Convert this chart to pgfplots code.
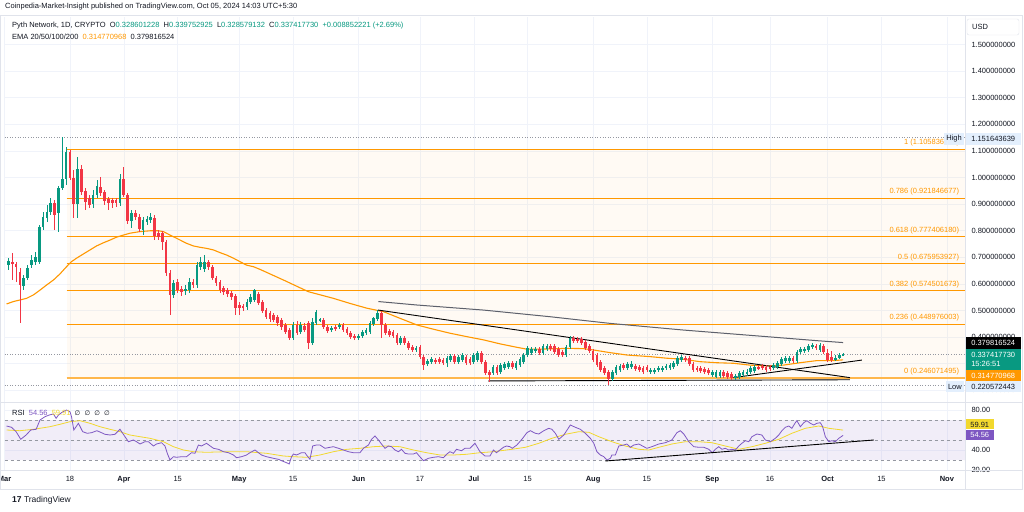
\documentclass[border=0pt]{standalone}
\usepackage{pgfplots}
\usepackage{pgfplotstable}
\pgfplotsset{compat=1.18}
\usepackage{fontspec}
\setmainfont{Liberation Sans}
\newfontfamily\djv{DejaVu Sans}
\newcommand\f{\fontsize{7.5pt}{9pt}\selectfont}
\definecolor{upc}{HTML}{089981}
\definecolor{dnc}{HTML}{F23645}
\definecolor{fibc}{HTML}{FF9800}
\definecolor{emac}{HTML}{FF9800}
\definecolor{emab}{HTML}{5D606B}
\definecolor{txt}{HTML}{131722}
\definecolor{gridc}{HTML}{F0F3FA}
\definecolor{rsic}{HTML}{7E57C2}
\definecolor{rsima}{HTML}{F2D82E}
\definecolor{hl}{HTML}{E3EFFD}
\definecolor{framec}{HTML}{E0E3EB}
\definecolor{dashc}{HTML}{9598A1}

\pgfplotstableread{
d o h l c
1 .671 .698 .653 .686
5 .592 .634 .577 .622
6 .622 .671 .615 .660
7 .671 .709 .660 .690
8 .683 .720 .671 .701
9 .683 .822 .675 .814
10 .814 .871 .803 .852
11 .848 .897 .833 .871
12 .871 .923 .859 .904
14 .867 .969 .796 .961
15 .961 1.152 .953 .995
16 .995 1.115 .972 1.096
19 .901 1.078 .848 1.032
23 .901 .953 .886 .935
24 .935 .991 .923 .969
30 .904 1.014 .893 .995
33 .837 .878 .810 .867
36 .803 .852 .784 .841
37 .833 .856 .822 .844
38 .841 .867 .829 .852
44 .559 .615 .547 .604
47 .573 .596 .559 .581
48 .577 .622 .566 .608
50 .596 .683 .585 .671
51 .664 .701 .653 .683
52 .656 .709 .645 .683
63 .514 .543 .502 .532
64 .532 .562 .525 .551
65 .540 .581 .532 .577
75 .397 .457 .389 .446
77 .420 .457 .412 .446
80 .378 .472 .371 .457
81 .453 .502 .446 .495
82 .465 .472 .457 .468
85 .427 .442 .420 .435
87 .438 .453 .431 .446
92 .397 .412 .389 .404
93 .404 .427 .397 .420
94 .416 .435 .408 .427
95 .420 .461 .412 .453
96 .450 .476 .442 .472
97 .468 .502 .461 .491
103 .378 .404 .371 .397
107 .352 .367 .344 .359
110 .299 .318 .292 .310
111 .307 .326 .299 .318
115 .303 .329 .288 .322
116 .314 .337 .307 .329
118 .307 .333 .299 .326
119 .314 .341 .307 .333
122 .307 .341 .299 .333
123 .314 .348 .307 .341
127 .265 .295 .258 .288
129 .269 .303 .262 .295
130 .284 .307 .277 .299
131 .288 .310 .281 .303
133 .284 .310 .277 .303
134 .295 .326 .288 .318
135 .307 .341 .299 .333
136 .333 .367 .326 .359
137 .341 .363 .333 .356
138 .348 .363 .341 .356
140 .341 .374 .333 .367
141 .356 .374 .348 .367
146 .333 .371 .326 .363
147 .363 .404 .356 .397
158 .243 .277 .235 .269
159 .265 .295 .258 .288
160 .277 .299 .269 .292
162 .284 .307 .277 .299
163 .288 .310 .281 .299
168 .269 .284 .262 .277
169 .269 .284 .262 .277
170 .277 .292 .269 .284
171 .277 .292 .269 .284
172 .284 .299 .277 .292
173 .284 .303 .277 .295
174 .288 .310 .281 .303
175 .299 .329 .292 .322
176 .314 .333 .307 .326
184 .258 .277 .250 .269
185 .250 .277 .247 .269
186 .254 .277 .247 .269
190 .247 .262 .239 .254
191 .250 .273 .243 .265
192 .258 .277 .250 .269
193 .262 .281 .254 .269
194 .269 .292 .262 .284
195 .273 .295 .265 .288
200 .284 .303 .277 .295
201 .288 .310 .281 .303
202 .299 .326 .292 .318
203 .310 .329 .303 .322
204 .310 .329 .303 .322
206 .310 .352 .303 .344
207 .344 .363 .337 .356
208 .348 .363 .341 .356
209 .352 .374 .344 .367
210 .363 .378 .356 .371
212 .352 .378 .344 .371
216 .314 .333 .310 .322
217 .322 .341 .318 .333
218 .3286 .3398 .3286 .3374
}\upT

\pgfplotstableread{
d o h l c
2 .683 .717 .615 .675
3 .675 .683 .608 .664
4 .645 .660 .453 .596
13 .904 .916 .803 .859
17 1.096 1.104 .991 .998
18 .998 1.029 .848 .901
20 1.032 1.047 .935 .946
21 .950 .961 .878 .908
22 .923 .935 .886 .897
25 .965 1.002 .931 .942
26 .946 .953 .897 .912
27 .919 .927 .878 .904
28 .916 .923 .886 .904
29 .916 .923 .889 .904
31 .995 1.040 .927 .935
32 .935 .942 .826 .837
34 .867 .878 .841 .852
35 .852 .863 .796 .807
39 .848 .859 .765 .780
40 .792 .803 .765 .777
41 .792 .799 .728 .758
42 .758 .765 .630 .641
43 .641 .653 .483 .559
45 .608 .619 .566 .577
46 .581 .592 .555 .570
49 .608 .619 .585 .596
53 .683 .690 .653 .664
54 .664 .671 .615 .622
55 .622 .630 .592 .604
56 .608 .615 .566 .577
57 .585 .592 .559 .570
58 .577 .585 .551 .562
59 .566 .573 .540 .551
60 .555 .562 .483 .510
61 .521 .532 .483 .510
62 .517 .525 .498 .510
66 .562 .570 .521 .529
67 .532 .540 .491 .498
68 .502 .510 .468 .476
69 .491 .498 .457 .468
70 .484 .491 .457 .465
71 .476 .483 .442 .453
72 .465 .472 .427 .438
73 .446 .453 .412 .420
74 .427 .435 .389 .397
76 .446 .461 .408 .416
78 .442 .453 .420 .427
79 .453 .461 .356 .378
83 .465 .472 .431 .438
84 .438 .446 .416 .423
86 .438 .446 .423 .431
88 .446 .453 .420 .427
89 .431 .438 .408 .416
90 .416 .423 .393 .401
91 .404 .412 .389 .397
98 .491 .498 .397 .446
99 .446 .453 .408 .416
100 .423 .431 .401 .408
101 .420 .427 .397 .404
102 .408 .416 .371 .378
104 .397 .404 .371 .378
105 .378 .386 .352 .359
106 .363 .371 .344 .352
108 .363 .371 .318 .326
109 .326 .333 .277 .295
112 .314 .322 .299 .307
113 .318 .326 .299 .307
114 .314 .322 .295 .303
117 .329 .337 .299 .307
120 .326 .333 .295 .303
121 .318 .326 .295 .303
124 .341 .348 .299 .307
125 .307 .314 .258 .265
126 .269 .277 .232 .258
128 .288 .295 .258 .265
132 .303 .310 .281 .288
139 .356 .363 .333 .341
142 .367 .374 .348 .356
143 .367 .374 .337 .344
144 .356 .363 .326 .333
145 .344 .352 .326 .333
148 .397 .404 .378 .386
149 .393 .401 .378 .386
150 .393 .401 .371 .378
151 .382 .389 .352 .359
152 .367 .374 .341 .348
153 .348 .356 .307 .314
154 .333 .341 .288 .295
155 .307 .314 .269 .277
156 .284 .292 .258 .265
157 .269 .277 .2206 .243
161 .295 .303 .277 .284
164 .292 .299 .273 .281
165 .288 .295 .269 .277
166 .284 .292 .262 .269
167 .288 .295 .269 .277
177 .322 .329 .307 .314
178 .322 .329 .292 .299
179 .299 .307 .269 .277
180 .284 .292 .269 .277
181 .284 .292 .265 .273
182 .281 .288 .262 .269
183 .277 .284 .258 .265
187 .269 .277 .247 .254
188 .265 .273 .243 .250
189 .262 .269 .239 .247
196 .288 .295 .277 .284
197 .292 .299 .277 .284
198 .288 .295 .269 .277
199 .288 .295 .273 .281
205 .322 .329 .303 .310
211 .367 .374 .352 .359
213 .367 .374 .337 .344
214 .341 .356 .307 .314
215 .326 .348 .307 .314
}\dnT

\pgfplotsset{
  chart/.style={scale only axis, width=960.4pt, xmin=0, xmax=249.714,
    axis line style={draw=none}, major tick length=0pt,
    grid=major, grid style={gridc, line width=0.6pt},
    xtick={0,17,31,45,61,75,92,108,122,136,153,167,184,199,214,228,245},
    yticklabel pos=right,
    yticklabel style={font=\f, text=txt, anchor=west, xshift=3pt}},
  wick/.style={draw=none, mark=none, forget plot,
    error bars/y dir=both, error bars/y explicit, error bars/error mark=none,
    error bars/error bar style={draw=#1, line width=0.75pt, solid}},
  body/.style={draw=none, mark=none, forget plot,
    error bars/y dir=both, error bars/y explicit, error bars/error mark=none,
    error bars/error bar style={draw=#1, line width=2.7pt, solid}},
}

\begin{document}
\begin{tikzpicture}[font=\f]
\useasboundingbox (0,0) rectangle (1024pt,511pt);
\fill[white] (0,0) rectangle (1024pt,511pt);
\begin{scope}
\clip (0,0) rectangle (1024pt,511pt);

% ---------- price panel ----------
\begin{axis}[chart, at={(4.6pt,109pt)}, anchor=south west, height=385pt,
  ymin=0.15639, ymax=1.60376, xticklabels={},
  ytick={0.2,0.4,0.5,0.6,0.7,0.8,0.9,1.0,1.1,1.2,1.3,1.4,1.5},
  yticklabels={0.200000000,0.400000000,0.500000000,0.600000000,0.700000000,0.800000000,0.900000000,1.000000000,1.100000000,1.200000000,1.300000000,1.400000000,1.500000000},
  extra y ticks={0.3}, extra y tick labels={}]
% fib background
\addplot[draw=none, fill=fibc, fill opacity=0.045, forget plot] coordinates {(16.15,0.246071) (249.714,0.246071) (249.714,1.105837) (16.15,1.105837)} -- cycle;
% fib levels
\addplot[fibc, line width=1pt, forget plot] coordinates {(16.15,1.105837) (249.714,1.105837)};
\addplot[fibc, line width=1pt, forget plot] coordinates {(16.15,0.921847) (249.714,0.921847)};
\addplot[fibc, line width=1pt, forget plot] coordinates {(16.15,0.777406) (249.714,0.777406)};
\addplot[fibc, line width=1pt, forget plot] coordinates {(16.15,0.675954) (249.714,0.675954)};
\addplot[fibc, line width=1pt, forget plot] coordinates {(16.15,0.574502) (249.714,0.574502)};
\addplot[fibc, line width=1pt, forget plot] coordinates {(16.15,0.448976) (249.714,0.448976)};
\addplot[fibc!70, line width=1.4pt, forget plot] coordinates {(16.15,0.246071) (249.714,0.246071)};
% dotted high / low / last
\addplot[dashc, dotted, line width=0.6pt, forget plot] coordinates {(0,1.151644) (249.714,1.151644)};
\addplot[dashc, dotted, line width=0.6pt, forget plot] coordinates {(0,0.220572) (249.714,0.220572)};
\addplot[dashc, dotted, line width=0.6pt, forget plot] coordinates {(0,0.337418) (249.714,0.337418)};
% EMA 200 (grey)
\addplot[emab, line width=1pt, forget plot] coordinates {(97.2,.534) (107.2,.521) (124.5,.502) (141.8,.477) (157.4,.452) (176.4,.427) (198.2,.402) (211.2,.387) (218,.3798)};
% EMA 50 (orange)
\addplot[emac, line width=1.1pt, forget plot] coordinates {(0.5,.525) (2.3,.534) (4,.540) (5.7,.546) (7.5,.559) (9.2,.577) (10.9,.596) (12.7,.615) (14.4,.638) (16.1,.665) (17.4,.684) (18.7,.697) (20.5,.713) (22.2,.728) (23.9,.743) (25.7,.755) (27.4,.765) (29.1,.776) (30.9,.784) (32.6,.791) (35.2,.797) (37.8,.800) (40,.800) (41.3,.797) (43,.784) (44.7,.772) (47.3,.753) (49.1,.743) (50.8,.738) (52.5,.734) (54.3,.728) (56,.718) (57.7,.709) (59.5,.697) (61.2,.684) (62.9,.671) (64.7,.665) (66.4,.655) (72.5,.615) (79,.571) (85.5,.546) (89.8,.527) (94.2,.509) (98.5,.496) (102.8,.471) (107.2,.446) (111.5,.430) (115.8,.415) (120.2,.402) (124.5,.390) (128.8,.375) (133.2,.362) (135.8,.355) (139.2,.355) (143.6,.357) (147,.358) (150.5,.357) (153.1,.352) (157.4,.342) (161.8,.333) (167.8,.327) (172.2,.321) (176.5,.317) (180.8,.308) (185.2,.304) (189.5,.302) (193.8,.295) (198.2,.292) (202.5,.295) (206.8,.304) (211.2,.312) (215.5,.312) (218,.3148)};
% trend lines
\addplot[black, line width=0.9pt, forget plot] coordinates {(97.1,.502) (219.8,.248)};
\addplot[black, line width=0.9pt, forget plot] coordinates {(125.7,.2355) (219.8,.240)};
\addplot[black, line width=0.9pt, forget plot] coordinates {(189.5,.248) (222.9,.314)};
% candles
\addplot[wick=upc] table[x=d, y expr={(\thisrow{h}+\thisrow{l})/2}, y error expr={(\thisrow{h}-\thisrow{l})/2}] {\upT};
\addplot[wick=dnc] table[x=d, y expr={(\thisrow{h}+\thisrow{l})/2}, y error expr={(\thisrow{h}-\thisrow{l})/2}] {\dnT};
\addplot[body=upc] table[x=d, y expr={(\thisrow{o}+\thisrow{c})/2}, y error expr={max(abs(\thisrow{o}-\thisrow{c})/2,0.0018)}] {\upT};
\addplot[body=dnc] table[x=d, y expr={(\thisrow{o}+\thisrow{c})/2}, y error expr={max(abs(\thisrow{o}-\thisrow{c})/2,0.0018)}] {\dnT};
% fib labels
\begin{scope}[every node/.style={anchor=south east, font=\f, text=fibc, inner sep=1pt, yshift=2pt}]
\node at (axis cs:248.5,1.105837) {1 (1.105836536)};
\node at (axis cs:248.5,0.921847) {0.786 (0.921846677)};
\node at (axis cs:248.5,0.777406) {0.618 (0.777406180)};
\node at (axis cs:248.5,0.675954) {0.5 (0.675953927)};
\node at (axis cs:248.5,0.574502) {0.382 (0.574501673)};
\node at (axis cs:248.5,0.448976) {0.236 (0.448976003)};
\node at (axis cs:248.5,0.246071) {0 (0.246071495)};
\end{scope}
\end{axis}

% ---------- RSI panel ----------
\begin{axis}[chart, at={(4.6pt,41pt)}, anchor=south west, height=67pt,
  ymin=20, ymax=87, ytick={20,40,80}, yticklabels={20.00,40.00,80.00},
  xticklabels={\textbf{Mar},18,\textbf{Apr},15,\textbf{May},15,\textbf{Jun},17,\textbf{Jul},15,\textbf{Aug},15,\textbf{Sep},16,\textbf{Oct},15,\textbf{Nov}},
  xticklabel style={font=\f, text=txt, yshift=-3pt}]
\addplot[draw=none, fill=rsic, fill opacity=0.1, forget plot] coordinates {(0,30) (249.714,30) (249.714,70) (0,70)} -- cycle;
\addplot[dashc, dashed, line width=0.6pt, forget plot] coordinates {(0,70) (249.714,70)};
\addplot[dashc, dashed, line width=0.6pt, forget plot] coordinates {(0,50) (249.714,50)};
\addplot[dashc, dashed, line width=0.6pt, forget plot] coordinates {(0,30) (249.714,30)};
% RSI MA
\addplot[rsima, line width=0.8pt, forget plot] coordinates {(0.5,60) (4,59.3) (7.5,60.7) (11.8,63.3) (14.4,65.7) (17,68.3) (19.6,69.3) (22.2,66.7) (24.8,63.3) (27.4,60.7) (30,58.3) (32.6,55) (35.2,53.3) (37.8,51.7) (41.3,48.3) (43.9,43.3) (46.5,40) (49.1,38.3) (52.5,37.7) (57.7,38.3) (62.9,38.3) (68.1,36.7) (72.5,34) (75.1,33.3) (78.5,32.7) (82,35) (85.5,38.3) (89,40.7) (92.4,41.7) (95.9,43.3) (99.3,44) (102.8,43.3) (106.3,40) (109.7,37.3) (113.2,35) (116.7,35) (120.1,35.7) (123.6,37.3) (127.1,38.3) (131.9,40.7) (135.4,42.7) (138.9,46.7) (142.3,51.7) (145.8,55.7) (149.3,58.3) (151.9,57.7) (154.5,53.3) (157.9,48.3) (161.4,44) (164.9,40.7) (167.5,40) (170.1,42.7) (173.5,46) (177,48.3) (180.5,48.3) (183.9,47.3) (187.4,44) (190.9,40.7) (194.3,43.3) (197.8,46.7) (201.3,50.7) (204.7,56.7) (208.2,61.7) (211.7,64) (214.3,61.7) (218,59.91)};
% RSI
\addplot[rsic, line width=0.8pt, forget plot] coordinates {(0.5,64) (1.8,62.7) (3.0,58.3) (4.2,50.7) (5.6,55) (6.8,60) (8.2,60.7) (9.2,70) (10.5,73.3) (11.6,75) (12.7,76) (13.4,71.7) (14,75) (14.8,77.3) (15.7,79.3) (16.1,80) (17,78.3) (17.4,73.3) (18,60) (19.2,66.7) (20.3,58.3) (21.5,56.7) (22.6,57.3) (24,59.3) (25.2,57.3) (26.1,55.7) (27.4,55) (28.7,55.7) (30,60.7) (31.3,53.3) (32.2,48.3) (33.5,50) (34.3,48.3) (35.2,46) (36.5,48.3) (37.4,48.3) (38.7,44) (39.5,46) (40.8,47.3) (41.7,44) (42.3,36.7) (43,30) (43.9,33.3) (44.7,32.7) (46,33.3) (47.3,33.3) (48.6,37.3) (49.5,36.7) (50.4,45) (51.2,44) (52.5,46.7) (54.3,41.7) (55.6,40.7) (56.9,38.3) (58.2,37.3) (59.5,35) (60.3,32.3) (61.6,33.3) (62.9,35) (63.8,37.3) (65.1,40) (66,37.3) (66.8,35) (68.1,33.3) (69.9,31.7) (71.2,30.7) (72,29.3) (73.3,27.3) (74,26) (74.6,33.3) (75.1,36) (75.9,35) (77.2,37.3) (78.1,37.3) (78.5,35) (79.4,30.7) (80.1,44) (81.1,45) (82,45) (83.3,41.7) (84.6,42.7) (85.5,43.3) (86.8,41.7) (88.1,40) (89.4,38.3) (90.7,37.3) (92.4,37.3) (93.3,41.7) (94.6,45) (95.4,50.7) (96.3,54) (97.2,50) (98,46) (98.9,41.7) (99.8,44) (100.6,43.3) (101.5,40) (102.4,38.3) (103.2,40.7) (104.1,36.7) (105,36) (106.3,36) (107.1,37.3) (107.8,34) (108.9,29.3) (110.2,31.7) (111.5,32.7) (112.8,33.3) (114.1,32.3) (115,36) (115.8,38.3) (116.7,36.7) (117.5,40.7) (118.8,39.3) (119.7,41.7) (121,41.7) (122.3,46.7) (123.6,38.3) (124.9,34) (126.2,34) (127.1,40) (127.9,37.3) (128.8,40) (129.7,42.7) (130.5,44) (131.4,43.3) (132,41.7) (133.2,45) (134.5,50.7) (135.8,57.3) (136.7,59.3) (138,56.7) (138.9,56) (140.2,59.3) (141.5,61.7) (142.3,60.7) (143.2,56.7) (144.1,50.7) (145.4,55) (147.1,65) (148.4,62.7) (149.7,60.7) (151,56.7) (152.3,51.7) (153.2,46.7) (154,38.3) (154.9,35) (155.8,33.3) (156.6,30) (157.5,31.7) (157.9,35) (158.8,35) (159.7,44) (161,45) (161.8,46) (162.7,42.7) (163.6,45) (164.9,46) (166.2,43.3) (167,41.7) (168.3,43.3) (170.1,46) (171.8,47.3) (173.5,50) (174.8,57.3) (175.7,59.3) (176.6,56) (177.9,48.3) (179.2,43.3) (180.5,42.7) (181.8,42.7) (183.1,40.7) (184,37.3) (184.8,40.7) (185.7,43.3) (186.5,40.7) (187.4,41.7) (188.3,40) (189.1,40.7) (190,40) (190.9,44) (191.7,46.7) (192.6,49.3) (193.5,48.3) (194.3,53.3) (195.6,56) (196.9,55) (197.8,50) (199.1,48.3) (200.4,51.7) (201.3,55) (202.1,59.3) (203,62.7) (203.9,64) (204.7,61.7) (205.6,67.3) (206,69.3) (206.9,63.3) (207.8,67.3) (208.6,69.3) (209.5,66.7) (210.4,65) (211.2,66.7) (212.1,67.3) (212.7,63.3) (213.4,53.3) (214.3,48.3) (215.1,49.3) (216,48.3) (216.9,51.7) (218,54.56)};
\addplot[black, line width=0.9pt, forget plot] coordinates {(156.2,29) (226,50)};
\end{axis}

% ---------- frame and separators ----------
\draw[framec, line width=0.6pt] (0.5pt,22pt) rectangle (1022pt,496pt);
\draw[framec, line width=0.6pt] (965pt,22pt) -- (965pt,496pt);
\draw[framec, line width=0.8pt] (0.5pt,108.5pt) -- (1022pt,108.5pt);
\draw[framec, line width=0.6pt] (0.5pt,41pt) -- (1022pt,41pt);
\fill[white] (966pt,22.3pt) rectangle (1021.7pt,38.5pt);

% ---------- header ----------
\node[anchor=west, text=txt, inner sep=0pt] at (5pt,504pt) {Coinpedia-Market-Insight published on TradingView.com, Oct 05, 2024 14:03 UTC+5:30};
\node[anchor=west, text=txt, inner sep=0pt] at (12pt,485pt) {Pyth Network, 1D, CRYPTO\ \ O\textcolor{upc}{0.328601228}\ \ H\textcolor{upc}{0.339752925}\ \ L\textcolor{upc}{0.328579132}\ \ C\textcolor{upc}{0.337417730}\ \ \textcolor{upc}{+0.008852221 (+2.69\%)}};
\node[anchor=west, text=txt, inner sep=0pt] at (12pt,474pt) {EMA 20/50/100/200\ \ \textcolor{emac}{0.314770968}\ \ 0.379816524};
\node[anchor=west, text=txt, inner sep=0pt] at (12pt,98pt) {RSI\ \ \textcolor{rsic}{54.56}\ \ \textcolor{rsima}{59.91}\ \ {\djv\fontsize{6.5pt}{8pt}\selectfont ∅\ \ ∅\ \ ∅\ \ ∅}};

% USD box
\draw[framec, rounded corners=2pt, fill=white] (967pt,476pt) rectangle (1019pt,492pt);
\node[anchor=west, text=txt, inner sep=0pt] at (972pt,484pt) {USD};

% ---------- right-side labels ----------
\begin{scope}[every node/.style={anchor=west, inner xsep=3pt, inner ysep=0pt, minimum height=11.5pt, minimum width=55pt, font=\f}]
\node[fill=hl, text=txt] at (965.5pt,372pt) {1.151643639};
\node[fill=black, text=white] at (965.5pt,168pt) {0.379816524};
\node[fill=upc, text=white, minimum height=21pt, align=left, font=\fontsize{7.5pt}{9.5pt}\selectfont] at (965.5pt,151.5pt) {0.337417730\\15:26:51};
\node[fill=fibc, text=white] at (965.5pt,135pt) {0.314770968};
\node[fill=hl, text=txt] at (965.5pt,124.5pt) {0.220572443};
\node[fill=rsima, text=txt, minimum width=28pt, minimum height=10pt] at (965.5pt,86.5pt) {59.91};
\node[fill=rsic, text=white, minimum width=28pt, minimum height=10pt] at (965.5pt,75.6pt) {54.56};
\end{scope}
\node[fill=hl, text=txt, anchor=east, inner xsep=2pt, inner ysep=0pt, minimum height=11.5pt] at (964pt,372pt) {High};
\node[fill=hl, text=txt, anchor=east, inner xsep=2pt, inner ysep=0pt, minimum height=11.5pt] at (964pt,124.5pt) {Low};

% ---------- logo ----------
\node[anchor=west, text=txt, inner sep=0pt, font=\fontsize{8.5pt}{10pt}\selectfont] at (12pt,11pt) {\textbf{17}\ TradingView};
\end{scope}
\end{tikzpicture}
\end{document}
